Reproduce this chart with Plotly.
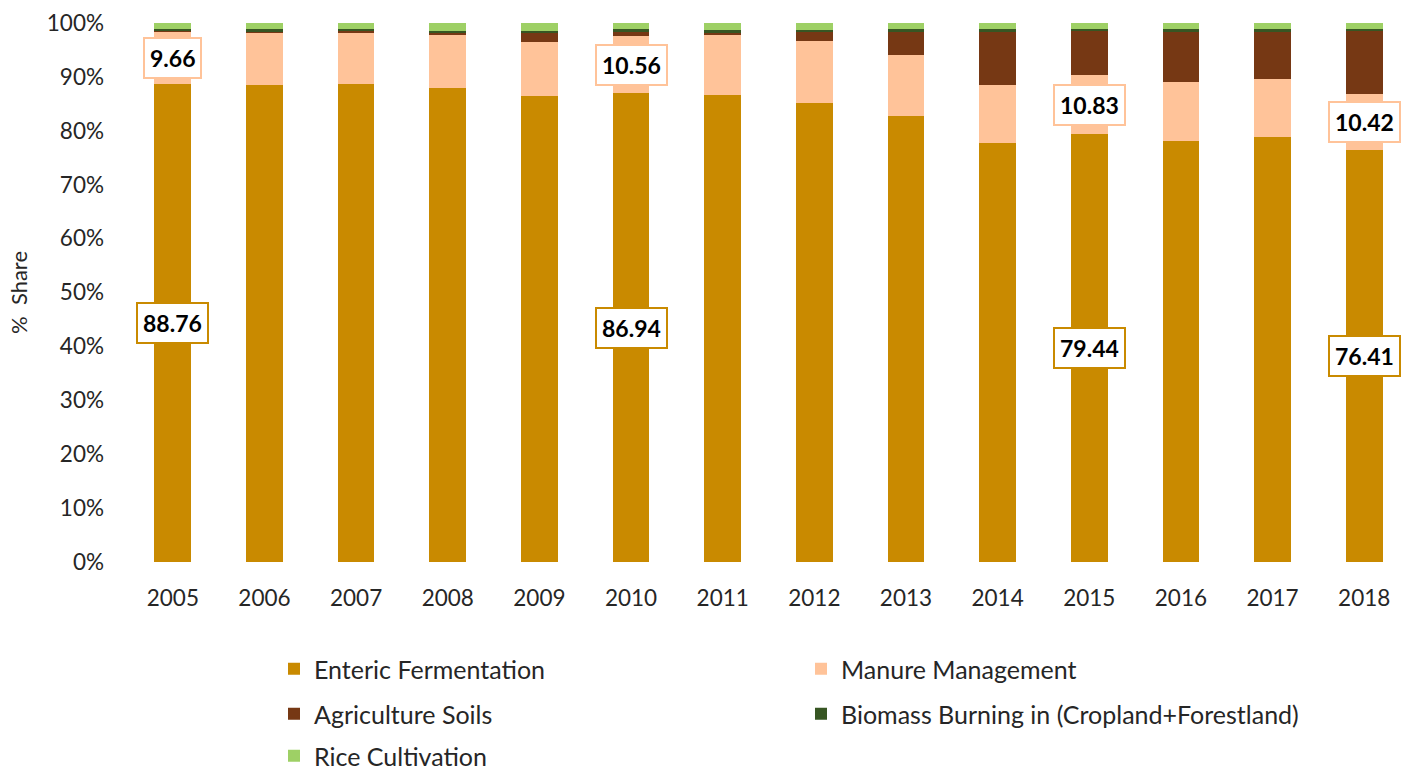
import plotly.graph_objects as go

years = ["2005", "2006", "2007", "2008", "2009", "2010", "2011",
         "2012", "2013", "2014", "2015", "2016", "2017", "2018"]

enteric = [88.76, 88.57, 88.76, 87.96, 86.50, 86.94, 86.70,
           85.20, 82.70, 77.80, 79.44, 78.20, 78.90, 76.41]
manure = [9.66, 9.63, 9.44, 9.80, 10.06, 10.56, 11.00,
          11.55, 11.30, 10.70, 10.83, 10.80, 10.80, 10.42]
soils = [0.20, 0.20, 0.30, 0.40, 1.60, 0.80, 0.40,
         1.50, 4.40, 9.90, 8.20, 9.40, 8.70, 11.60]
biomass = [0.30, 0.40, 0.40, 0.40, 0.40, 0.50, 0.60,
           0.50, 0.40, 0.40, 0.50, 0.40, 0.40, 0.40]
rice = [1.08, 1.20, 1.10, 1.44, 1.44, 1.20, 1.30,
        1.25, 1.20, 1.20, 1.03, 1.20, 1.20, 1.17]

labelled_years = ["2005", "2010", "2015", "2018"]

series = [
    ("Enteric Fermentation", enteric, "#C98A00", "legend"),
    ("Manure Management", manure, "#FFC399", "legend"),
    ("Agriculture Soils", soils, "#763814", "legend2"),
    ("Biomass Burning in (Cropland+Forestland)", biomass, "#375623", "legend2"),
    ("Rice Cultivation", rice, "#9ED065", "legend3"),
]

FONT = "Lato"
TXT = "#262626"

xpos = list(range(len(years)))

fig = go.Figure()
for name, vals, color, lg in series:
    fig.add_trace(go.Bar(
        x=xpos, y=vals, name=name, legend=lg,
        marker=dict(color=color, line=dict(width=0)),
    ))

# Boxed value labels centred on the enteric and manure segments
for yr in labelled_years:
    i = years.index(yr)
    fig.add_annotation(
        x=i, y=enteric[i] / 2, text=f"<b>{enteric[i]:.2f}</b>",
        showarrow=False, font=dict(family=FONT, size=23, color="#000000"),
        bgcolor="white", bordercolor="#C98A00", borderwidth=2, borderpad=5,
    )
    fig.add_annotation(
        x=i, y=enteric[i] + manure[i] / 2, text=f"<b>{manure[i]:.2f}</b>",
        showarrow=False, font=dict(family=FONT, size=23, color="#000000"),
        bgcolor="white", bordercolor="#FFC399", borderwidth=2, borderpad=5,
    )

PW = 1283.0
PH = 539.0


def lx(px):
    return (px - 127) / PW


def ly(py):
    return (562 - py) / PH


legend_common = dict(
    orientation="h", xanchor="left", yanchor="middle",
    font=dict(family=FONT, size=25, color=TXT),
    entrywidth=482, entrywidthmode="pixels",
    bgcolor="rgba(0,0,0,0)", traceorder="normal",
)

fig.update_layout(
    width=1412, height=769,
    margin=dict(l=127, r=2, t=23, b=207, autoexpand=False),
    paper_bgcolor="white", plot_bgcolor="white",
    barmode="stack", bargap=0.6,
    font=dict(family=FONT, size=22, color=TXT),
    legend=dict(x=lx(274), y=ly(669), **legend_common),
    legend2=dict(x=lx(274), y=ly(714), **legend_common),
    legend3=dict(x=lx(274), y=ly(756), **legend_common),
    xaxis=dict(
        range=[-0.5, len(years) - 0.5],
        tickmode="array", tickvals=xpos, ticktext=years,
        showgrid=False, showline=False, zeroline=False,
        tickfont=dict(family=FONT, size=22.5, color=TXT),
        ticklabelstandoff=20,
    ),
    yaxis=dict(
        range=[0, 100], dtick=10, ticksuffix="%",
        showgrid=False, showline=False, zeroline=False,
        tickfont=dict(family=FONT, size=22.5, color=TXT),
        ticklabelstandoff=22,
        title=dict(text="%  Share", font=dict(family=FONT, size=22, color=TXT),
                   standoff=13),
    ),
)

fig.write_html("out.html")
